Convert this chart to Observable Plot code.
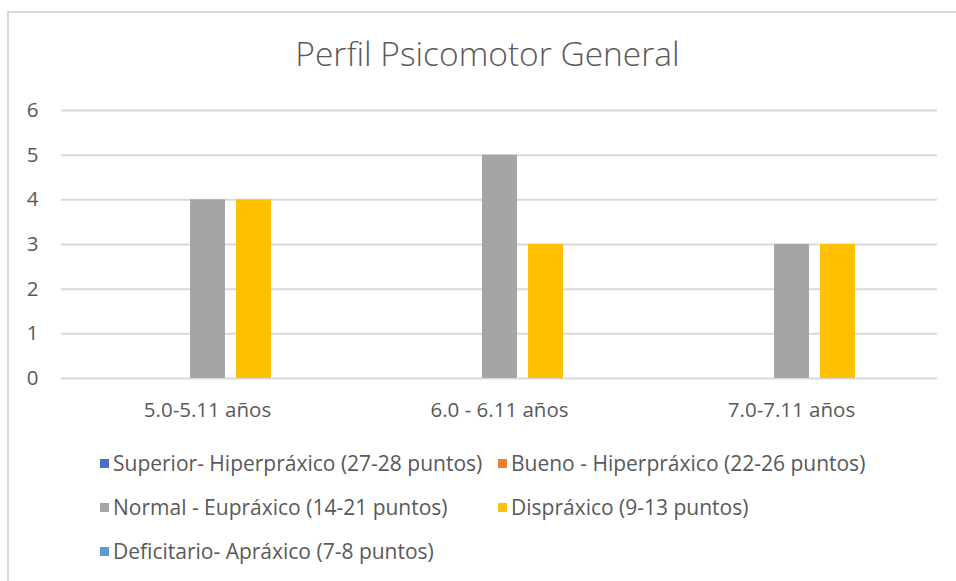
<!DOCTYPE html>
<html>
<head>
<meta charset="utf-8">
<script src="https://cdn.jsdelivr.net/npm/d3@7"></script>
<script src="https://cdn.jsdelivr.net/npm/@observablehq/plot@0.6"></script>
<style>
  html, body { margin: 0; padding: 0; background: #fff; width: 956px; height: 581px; overflow: hidden; }
  body { font-family: "Open Sans", Lato, sans-serif; color: #595959; position: relative; }
  #frame { position: absolute; left: 7px; top: 11px; width: 980px; height: 600px; border: 2px solid #d9d9d9; box-sizing: border-box; }
  #title { position: absolute; left: 0; width: 975px; top: 30px; text-align: center; font-size: 33.5px; font-weight: 300; color: #595959; }
  #chart { position: absolute; left: 0; top: 90px; }
  #legend { position: absolute; left: 100px; top: 449px; display: grid; grid-template-columns: 398px 400px; row-gap: 16px; font-size: 21px; color: #595959; }
  .item { display: flex; align-items: center; height: 28px; white-space: nowrap; }
  .sw { width: 9px; height: 9px; margin-right: 4px; flex: none; }
</style>
</head>
<body>
<div id="frame"></div>
<div id="title">Perfil Psicomotor General</div>
<div id="chart"></div>
<div id="legend"></div>
<script>
const categories = ["5.0-5.11 años", "6.0 - 6.11 años", "7.0-7.11 años"];
const series = [
  "Superior- Hiperpráxico (27-28 puntos)",
  "Bueno - Hiperpráxico (22-26 puntos)",
  "Normal - Eupráxico (14-21 puntos)",
  "Dispráxico (9-13 puntos)",
  "Deficitario- Apráxico (7-8 puntos)"
];
const colors = ["#4472C4", "#ED7D31", "#A5A5A5", "#FFC000", "#5B9BD5"];
const superior = [0, 0, 0];
const bueno = [0, 0, 0];
const normal = [4, 5, 3];
const dispraxico = [4, 3, 3];
const deficitario = [0, 0, 0];
const yTicks = [0, 1, 2, 3, 4, 5, 6];

const seriesValues = [superior, bueno, normal, dispraxico, deficitario];
const data = [];
categories.forEach((c, i) => {
  series.forEach((s, j) => data.push({category: c, series: s, value: seriesValues[j][i]}));
});

const chart = Plot.plot({
  width: 956,
  height: 340,
  marginLeft: 60,
  marginRight: 18,
  marginTop: 20,
  marginBottom: 52,
  style: {fontFamily: "'Open Sans', Lato, sans-serif", fontSize: "20.5px", color: "#595959", background: "transparent"},
  fx: {domain: categories, padding: 0, label: null, axis: "bottom", tickSize: 0, tickPadding: 24},
  x: {domain: series, paddingInner: 0.24, paddingOuter: 0.78, axis: null},
  y: {domain: [0, 6], ticks: yTicks, label: null, tickSize: 0, tickPadding: 23, tickFormat: d3.format("d")},
  color: {domain: series, range: colors},
  marks: [
    Plot.ruleY(yTicks, {y: d => d, stroke: "#d9d9d9", strokeWidth: 2}),
    Plot.barY(data, {fx: "category", x: "series", y: "value", fill: "series"})
  ]
});
document.getElementById("chart").appendChild(chart);

const legend = document.getElementById("legend");
series.forEach((s, j) => {
  const it = document.createElement("div");
  it.className = "item";
  const sw = document.createElement("span");
  sw.className = "sw";
  sw.style.background = colors[j];
  const t = document.createElement("span");
  t.textContent = s;
  it.appendChild(sw);
  it.appendChild(t);
  legend.appendChild(it);
});
</script>
</body>
</html>
